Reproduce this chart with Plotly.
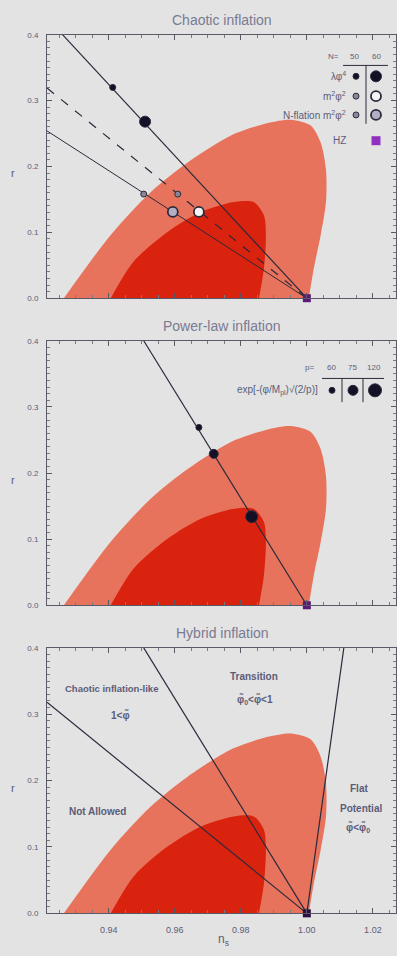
import plotly.graph_objects as go

W, H = 397, 956

# ---------------- data ----------------
xtick_vals = [0.94, 0.96, 0.98, 1.00, 1.02]
xtick_text = ["0.94", "0.96", "0.98", "1.00", "1.02"]
ytick_vals = [0.0, 0.1, 0.2, 0.3, 0.4]
ytick_text = ["0.0", "0.1", "0.2", "0.3", "0.4"]

panel_titles = ["Chaotic inflation", "Power-law inflation", "Hybrid inflation"]

# 95% and 68% confidence contours (n_s, r)
outer_ns = [0.9264, 0.9406, 0.9527, 0.9639, 0.9770, 0.9882, 0.9952, 1.0012,
            1.0042, 1.0058, 1.0058, 1.0042, 1.0021, 1.0006]
outer_r = [0.000, 0.096, 0.161, 0.206, 0.247, 0.266, 0.271, 0.262,
           0.236, 0.195, 0.146, 0.096, 0.045, 0.000]
inner_ns = [0.9406, 0.9476, 0.9579, 0.9679, 0.9779, 0.9839, 0.9870, 0.9876, 0.9870, 0.9855]
inner_r = [0.000, 0.056, 0.101, 0.131, 0.146, 0.146, 0.126, 0.096, 0.045, 0.000]

# Chaotic inflation
phi4_line_ns = [0.926, 1.000]
phi4_line_r = [0.400, 0.000]
m2_line_ns = [0.9213, 1.000]
m2_line_r = [0.319, 0.000]
nflation_line_ns = [0.9213, 1.000]
nflation_line_r = [0.254, 0.000]

phi4_ns = [0.9412, 0.9510]      # N = 50, 60
phi4_r = [0.320, 0.268]
m2_ns = [0.9609, 0.9673]
m2_r = [0.158, 0.131]
nflation_ns = [0.9506, 0.9594]
nflation_r = [0.158, 0.131]
hz_ns = [1.000]
hz_r = [0.000]

# Power-law inflation
powerlaw_line_ns = [0.9506, 1.000]
powerlaw_line_r = [0.400, 0.000]
powerlaw_ns = [0.9673, 0.9718, 0.9833]   # p = 60, 75, 120
powerlaw_r = [0.269, 0.229, 0.134]

# Hybrid inflation boundaries
hyb_left_ns = [0.9213, 1.000]
hyb_left_r = [0.318, 0.000]
hyb_mid_ns = [0.9506, 1.000]
hyb_mid_r = [0.400, 0.000]
hyb_right_ns = [1.000, 1.0112]
hyb_right_r = [0.000, 0.400]

# ---------------- layout helpers ----------------
XMIN, XMAX = 0.9213, 1.027
YMIN, YMAX = 0.0, 0.4
PX_L, PX_R = 47, 396
panels_px = [(31, 297), (340, 607), (650, 918)]  # top, bottom pixel rows

OUTER_C = "#e8735c"
INNER_C = "#d9230f"
LINE_C = "#2b2a3c"
TXT_C = "#5c5c78"
BG = "#e3e3e3"
FONT = "Liberation Sans"


def px2x(px):
    return XMIN + (px - PX_L) / (PX_R - PX_L) * (XMAX - XMIN)


def px2y(py, k):
    top, bot = panels_px[k]
    return YMIN + (bot - py) / (bot - top) * (YMAX - YMIN)


def pfx(px):
    return px / W


def pfy(py):
    return 1 - py / H


fig = go.Figure()


def add(trace, k):
    trace.update(xaxis="x" if k == 0 else f"x{k+1}", yaxis="y" if k == 0 else f"y{k+1}")
    fig.add_trace(trace)


def line(xs, ys, k, dash="solid", width=1.2):
    add(go.Scatter(x=xs, y=ys, mode="lines", line=dict(color=LINE_C, width=width, dash=dash),
                   hoverinfo="skip", showlegend=False), k)


def marker(xs, ys, k, size, color, edge=LINE_C, symbol="circle", ew=1):
    add(go.Scatter(x=xs, y=ys, mode="markers", cliponaxis=False,
                   marker=dict(size=size, color=color, symbol=symbol, line=dict(color=edge, width=ew)),
                   hoverinfo="skip", showlegend=False), k)


for k in range(3):
    add(go.Scatter(x=outer_ns, y=outer_r, mode="lines", fill="toself", fillcolor=OUTER_C,
                   line=dict(color=OUTER_C, width=0, shape="spline", smoothing=0.8),
                   hoverinfo="skip", showlegend=False), k)
    add(go.Scatter(x=inner_ns, y=inner_r, mode="lines", fill="toself", fillcolor=INNER_C,
                   line=dict(color=INNER_C, width=0, shape="spline", smoothing=0.8),
                   hoverinfo="skip", showlegend=False), k)

# Panel 1: chaotic
line(phi4_line_ns, phi4_line_r, 0)
line(m2_line_ns, m2_line_r, 0, dash="dash")
line(nflation_line_ns, nflation_line_r, 0, width=1)
marker(phi4_ns[:1], phi4_r[:1], 0, 6, "#141025")
marker(phi4_ns[1:], phi4_r[1:], 0, 11, "#141025")
marker(m2_ns[:1], m2_r[:1], 0, 6, "#8a8698")
marker(m2_ns[1:], m2_r[1:], 0, 10, "#f4f4f4", ew=1.8)
marker(nflation_ns[:1], nflation_r[:1], 0, 6, "#8a8698")
marker(nflation_ns[1:], nflation_r[1:], 0, 10, "#b4aec4", ew=1.8)
marker(hz_ns, hz_r, 0, 8, "#5a1a78", symbol="square", ew=0)

# Panel 2: power-law
line(powerlaw_line_ns, powerlaw_line_r, 1)
marker(powerlaw_ns[:1], powerlaw_r[:1], 1, 6, "#141025")
marker(powerlaw_ns[1:2], powerlaw_r[1:2], 1, 9, "#141025")
marker(powerlaw_ns[2:], powerlaw_r[2:], 1, 12, "#141025")
marker(hz_ns, hz_r, 1, 8, "#5a1a78", symbol="square", ew=0)

# Panel 3: hybrid
line(hyb_left_ns, hyb_left_r, 2)
line(hyb_mid_ns, hyb_mid_r, 2)
line(hyb_right_ns, hyb_right_r, 2)
marker(hz_ns, hz_r, 2, 8, "#2a0f40", symbol="square", ew=0)

# ---------------- legends (decorative tables) ----------------
marker([px2x(356)], [px2y(73, 0)], 0, 6, "#141025")
marker([px2x(376)], [px2y(73, 0)], 0, 11, "#141025")
marker([px2x(356)], [px2y(93, 0)], 0, 6, "#8a8698")
marker([px2x(376)], [px2y(93, 0)], 0, 10, "#f4f4f4", ew=1.8)
marker([px2x(356)], [px2y(112, 0)], 0, 6, "#8a8698")
marker([px2x(376)], [px2y(112, 0)], 0, 10, "#b4aec4", ew=1.8)
marker([px2x(376)], [px2y(138, 0)], 0, 9, "#9030c0", symbol="square", ew=0)
marker([px2x(332)], [px2y(390, 1)], 1, 6, "#141025")
marker([px2x(353)], [px2y(390, 1)], 1, 10, "#141025")
marker([px2x(375)], [px2y(390, 1)], 1, 13, "#141025")

shapes = [
    dict(type="line", xref="paper", yref="paper", x0=pfx(343), x1=pfx(388), y0=pfy(62), y1=pfy(62),
         line=dict(color=LINE_C, width=1)),
    dict(type="line", xref="paper", yref="paper", x0=pfx(366), x1=pfx(366), y0=pfy(62), y1=pfy(121),
         line=dict(color=LINE_C, width=1)),
    dict(type="line", xref="paper", yref="paper", x0=pfx(322), x1=pfx(384), y0=pfy(378), y1=pfy(378),
         line=dict(color=LINE_C, width=1)),
    dict(type="line", xref="paper", yref="paper", x0=pfx(342), x1=pfx(342), y0=pfy(378), y1=pfy(402),
         line=dict(color=LINE_C, width=1)),
    dict(type="line", xref="paper", yref="paper", x0=pfx(363), x1=pfx(363), y0=pfy(378), y1=pfy(402),
         line=dict(color=LINE_C, width=1)),
]

annots = []


def text(s, x, y, size=8, anchor="center", color=TXT_C):
    annots.append(dict(text=s, x=pfx(x), y=pfy(y), xref="paper", yref="paper", showarrow=False,
                       xanchor=anchor, yanchor="middle", font=dict(size=size, color=color, family=FONT)))


for k, t in enumerate(panel_titles):
    text(t, 222, panels_px[k][0] - 15, size=14, color="#7a7a92")
    text("r", 13, (panels_px[k][0] + panels_px[k][1]) / 2 + 7, size=11)
text("n<sub>s</sub>", 223, 945, size=12)

text("N=", 333, 53, size=8)
text("50", 354, 53, size=8)
text("60", 376, 53, size=8)
text("λφ<sup>4</sup>", 348, 73, size=10, anchor="right")
text("m<sup>2</sup>φ<sup>2</sup>", 348, 93, size=10, anchor="right")
text("N-flation m<sup>2</sup>φ<sup>2</sup>", 348, 112, size=10, anchor="right")
text("HZ", 348, 138, size=10, anchor="right")
text("p=", 309, 367, size=8)
text("60", 331, 367, size=8)
text("75", 352, 367, size=8)
text("120", 374, 367, size=8)
text("exp[-(φ/M<sub>pl</sub>)√(2/p)]", 320, 390, size=10, anchor="right")
text("<b>Chaotic inflation-like</b>", 111, 691, size=9.5)
text("<b>1<φ̃</b>", 120, 718, size=10)
text("<b>Transition</b>", 254, 679, size=10)
text("<b>φ̃<sub>0</sub><φ̃<1</b>", 255, 702, size=10)
text("<b>Not Allowed</b>", 97, 815, size=10)
text("<b>Flat</b>", 359, 792, size=10)
text("<b>Potential</b>", 361, 812, size=10)
text("<b>φ̃<φ̃<sub>0</sub></b>", 358, 831, size=10)

axis_common = dict(range=[XMIN, XMAX], showgrid=False, zeroline=False, showline=True, mirror="allticks",
                   linecolor="#5a5a66", linewidth=1, ticks="inside", ticklen=5, tickcolor="#5a5a66",
                   tickvals=xtick_vals, ticktext=xtick_text, ticklabelstandoff=8,
                   tickfont=dict(size=9, color=TXT_C, family=FONT),
                   minor=dict(dtick=0.005, tick0=0.94, ticks="inside", ticklen=3, tickcolor="#7a7a86"))
yaxis_common = dict(range=[YMIN, YMAX], showgrid=False, zeroline=False, showline=True, mirror="allticks",
                    linecolor="#5a5a66", linewidth=1, ticks="inside", ticklen=5, tickcolor="#5a5a66",
                    tickvals=ytick_vals, ticktext=ytick_text, ticklabelstandoff=6,
                    tickfont=dict(size=8, color=TXT_C, family=FONT),
                    minor=dict(dtick=0.01, tick0=0, ticks="inside", ticklen=3, tickcolor="#7a7a86"))

layout = dict(width=W, height=H, margin=dict(l=0, r=0, t=0, b=0), paper_bgcolor=BG, plot_bgcolor=BG,
              showlegend=False, shapes=shapes, annotations=annots)
for k in range(3):
    top, bot = panels_px[k]
    sx = "" if k == 0 else str(k + 1)
    xa = dict(axis_common)
    xa.update(domain=[pfx(PX_L), pfx(PX_R)], anchor="y" + sx, showticklabels=(k == 2))
    ya = dict(yaxis_common)
    ya.update(domain=[pfy(bot), pfy(top)], anchor="x" + sx)
    layout["xaxis" + sx] = xa
    layout["yaxis" + sx] = ya

fig.update_layout(**layout)
fig.write_html("out.html", config={"displayModeBar": False})

# remove the default page margin so the figure fills the window exactly
with open("out.html", "r", encoding="utf-8") as f:
    html = f.read()
html = html.replace("<head>", "<head><style>html,body{margin:0;padding:0;overflow:hidden;background:%s;}</style>" % BG, 1)
with open("out.html", "w", encoding="utf-8") as f:
    f.write(html)
